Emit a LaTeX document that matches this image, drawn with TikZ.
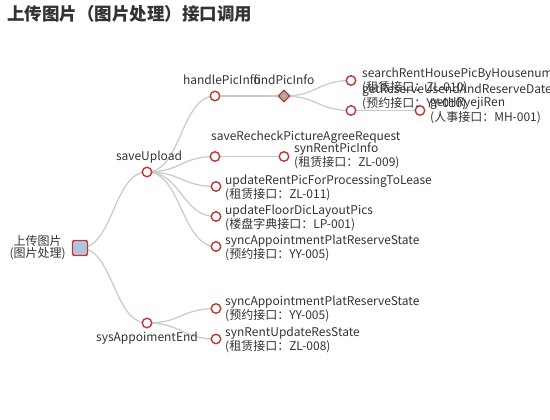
\documentclass[tikz,border=0pt]{standalone}
\usepackage{fontspec}
\setmainfont{Noto Sans CJK SC}
\usetikzlibrary{shapes.geometric,calc,backgrounds}
\definecolor{nodered}{HTML}{C23531}
\definecolor{edgegray}{HTML}{CCCCCC}
\definecolor{txt}{HTML}{333333}
\definecolor{rootfill}{HTML}{B0C4DE}
\definecolor{dfill}{HTML}{AAAAAA}
\newcommand\tedge[2]{\draw[tline] let \p1=(#1.center), \p2=(#2.center) in (\p1) .. controls ({0.5*\x1+0.5*\x2},\y1) and ({0.5*\x1+0.5*\x2},\y2) .. (\p2);}
\begin{document}
\begin{tikzpicture}[x=1pt,y=-1pt,
  leaf/.style={circle,draw=nodered,fill=white,line width=1.4pt,minimum size=9.5pt,inner sep=0pt},
  rootbox/.style={rectangle,rounded corners=2pt,draw=nodered,fill=rootfill,line width=1.4pt,minimum size=15pt,inner sep=0pt},
  dia/.style={diamond,draw=nodered,fill=dfill,line width=1.2pt,minimum size=12pt,inner sep=0pt},
  lbl/.style={text=txt,font=\fontsize{12}{12}\selectfont,inner sep=0pt,align=left},
  tline/.style={draw=edgegray,line width=1.3pt}]
\useasboundingbox (0,0) rectangle (550,420);

\node[font=\bfseries\fontsize{17.5}{18}\selectfont,text=txt,anchor=west,inner sep=0pt] (T) at (7,14) {上传图片（图片处理）接口调用};

% nodes
\node[rootbox] (R) at (80,248) {};
\node[leaf] (S) at (147,172) {};
\node[leaf] (E) at (147,323) {};
\node[leaf] (H) at (215,96) {};
\node[leaf] (SR) at (215,156.5) {};
\node[leaf] (U1) at (216,186.5) {};
\node[leaf] (U2) at (216,216.5) {};
\node[leaf] (U3) at (216,246.5) {};
\node[leaf] (E1) at (216,308.5) {};
\node[leaf] (E2) at (216,339) {};
\node[dia] (F) at (284,96) {};
\node[leaf] (SP) at (284,156.5) {};
\node[leaf] (F1) at (351,80.5) {};
\node[leaf] (F2) at (351,110.5) {};
\node[leaf] (G) at (420,110.5) {};

% edges
\begin{scope}[on background layer]
\tedge{R}{S}
\tedge{R}{E}
\tedge{S}{H}
\tedge{S}{SR}
\tedge{S}{U1}
\tedge{S}{U2}
\tedge{S}{U3}
\tedge{E}{E1}
\tedge{E}{E2}
\tedge{H}{F}
\tedge{SR}{SP}
\tedge{F}{F1}
\tedge{F}{F2}
\tedge{F2}{G}
\end{scope}

% labels
\node[lbl,align=center,anchor=east] (Rl) at (66,248) {上传图片\\(图片处理)};
\node[lbl] (Sl) at (149,157) {saveUpload};
\node[lbl] (El) at (147,338.5) {sysAppoimentEnd};
\node[lbl] (Hl) at (222,80) {handlePicInfo};
\node[lbl] (Fl) at (284,80) {findPicInfo};
\node[lbl,anchor=west] (SRl) at (211,137) {saveRecheckPictureAgreeRequest};
\node[lbl,anchor=west] (SPl) at (294,156) {synRentPicInfo\\(租赁接口：ZL-009)};
\node[lbl,anchor=west] (U1l) at (225,187.5) {updateRentPicForProcessingToLease\\(租赁接口：ZL-011)};
\node[lbl,anchor=west] (U2l) at (225,217.5) {updateFloorDicLayoutPics\\(楼盘字典接口：LP-001)};
\node[lbl,anchor=west] (U3l) at (225,247.5) {syncAppointmentPlatReserveState\\(预约接口：YY-005)};
\node[lbl,anchor=west] (E1l) at (225,308.5) {syncAppointmentPlatReserveState\\(预约接口：YY-005)};
\node[lbl,anchor=west] (E2l) at (225,339.5) {synRentUpdateResState\\(租赁接口：ZL-008)};
\node[lbl,anchor=west] (F1l) at (362,80.5) {searchRentHousePicByHousenum\\(租赁接口：ZL-010)};
\node[lbl,anchor=west] (F2l) at (362,96.5) {getReserveUsendAndReserveDate\\(预约接口：YY-010)};
\node[lbl,anchor=west] (Gl) at (430,110.5) {getHRyejiRen\\(人事接口：MH-001)};
\end{tikzpicture}
\end{document}
